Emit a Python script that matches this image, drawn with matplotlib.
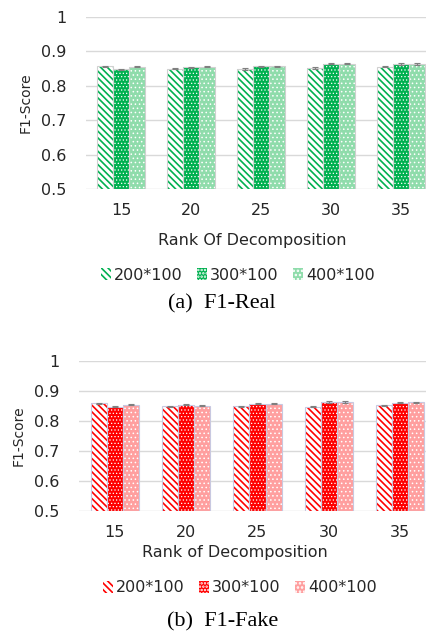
import numpy as np
import matplotlib
matplotlib.use("Agg")
import matplotlib.pyplot as plt
from matplotlib.patches import Patch

ranks = ["15", "20", "25", "30", "35"]
series = ["200*100", "300*100", "400*100"]

# F1-Real (top)
real_200 = [0.857, 0.850, 0.849, 0.852, 0.856]
real_300 = [0.848, 0.854, 0.857, 0.864, 0.863]
real_400 = [0.856, 0.856, 0.857, 0.864, 0.863]
real_err = [0.002, 0.002, 0.002, 0.002, 0.002]

# F1-Fake (bottom)
fake_200 = [0.859, 0.849, 0.849, 0.848, 0.852]
fake_300 = [0.848, 0.854, 0.857, 0.863, 0.861]
fake_400 = [0.854, 0.851, 0.857, 0.863, 0.862]
fake_err = [0.002, 0.002, 0.002, 0.002, 0.002]

yticks = [0.5, 0.6, 0.7, 0.8, 0.9, 1.0]
ytick_labels = ["0.5", "0.6", "0.7", "0.8", "0.9", "1"]

W, H = 427, 635
plt.rcParams['font.family'] = ['DejaVu Sans']
plt.rcParams['hatch.linewidth'] = 1.2
TXT = "#262626"

fig = plt.figure(figsize=(W / 100, H / 100), dpi=100)


def styles(dark, light):
    # (facecolor, hatchcolor, hatch, hatch linewidth)
    return [("white", dark, "\\\\\\\\\\", 1.2),
            (dark, "white", ".....", 0.5),
            (light, "white", "....", 0.6)]


def draw_panel(rect, vals, err, dark, light, outline):
    ax = fig.add_axes(rect)
    x = np.arange(len(ranks))
    w = 0.225
    st = styles(dark, light)
    for i, v in enumerate(vals):
        fc, hc, hatch, lw = st[i]
        pos = x + (i - 1) * w
        with plt.rc_context({'hatch.linewidth': lw}):
            ax.bar(pos, np.array(v) - 0.5, w, bottom=0.5, color=fc, edgecolor=hc,
                   hatch=hatch, linewidth=0, zorder=2)
        ax.bar(pos, np.array(v) - 0.5, w, bottom=0.5, fill=False,
               edgecolor=outline, linewidth=0.8, zorder=3)
        ax.errorbar(pos, v, yerr=err, fmt="none", ecolor="#7f7f7f",
                    elinewidth=0.8, capsize=2, capthick=0.8, zorder=4)
    ax.set_xlim(-0.5, len(ranks) - 0.5)
    ax.set_ylim(0.5, 1.0)
    ax.set_yticks(yticks)
    ax.set_yticklabels(ytick_labels)
    ax.set_xticks(x)
    ax.set_xticklabels(ranks)
    ax.tick_params(length=0, labelsize=11.5, colors=TXT, pad=10)
    ax.tick_params(axis="y", pad=14)
    ax.grid(axis="y", color="#d9d9d9", linewidth=1, zorder=0)
    for s in ax.spines.values():
        s.set_visible(False)
    ax.set_ylabel("F1-Score", fontsize=10, color=TXT, labelpad=6)
    handles = []
    for fc, hc, hatch, lw in st:
        handles.append(Patch(facecolor=fc, edgecolor=hc, hatch=hatch, linewidth=0))
    return ax, handles


# top panel
ax1, h1 = draw_panel([86 / W, 1 - 189 / H, 350 / W, 172 / H],
                     [real_200, real_300, real_400], real_err,
                     "#00b050", "#8fdcab", "#d0d0d0")
fig.text(252 / W, 1 - 240 / H, "Rank Of Decomposition", ha="center", va="center",
         fontsize=11.5, color=TXT)
fig.legend(h1, series, loc="center", bbox_to_anchor=(238 / W, 1 - 275 / H),
           ncol=3, frameon=False, fontsize=11.5, handlelength=0.6, handleheight=0.7,
           handletextpad=0.2, columnspacing=0.9, labelcolor=TXT)
fig.text(222 / W, 1 - 304 / H, "(a)  F1-Real", ha="center", va="center",
         fontsize=16, family="Liberation Serif")

# bottom panel
ax2, h2 = draw_panel([79 / W, 1 - 511 / H, 357 / W, 150 / H],
                     [fake_200, fake_300, fake_400], fake_err,
                     "#ff0000", "#ff9f9f", "#c8c8e0")
fig.text(235 / W, 1 - 553 / H, "Rank of Decomposition", ha="center", va="center",
         fontsize=11.5, color=TXT)
fig.legend(h2, series, loc="center", bbox_to_anchor=(240 / W, 1 - 588 / H),
           ncol=3, frameon=False, fontsize=11.5, handlelength=0.6, handleheight=0.7,
           handletextpad=0.2, columnspacing=0.9, labelcolor=TXT)
fig.text(223 / W, 1 - 622 / H, "(b)  F1-Fake", ha="center", va="center",
         fontsize=16, family="Liberation Serif")

fig.savefig("out.png", dpi=100)
